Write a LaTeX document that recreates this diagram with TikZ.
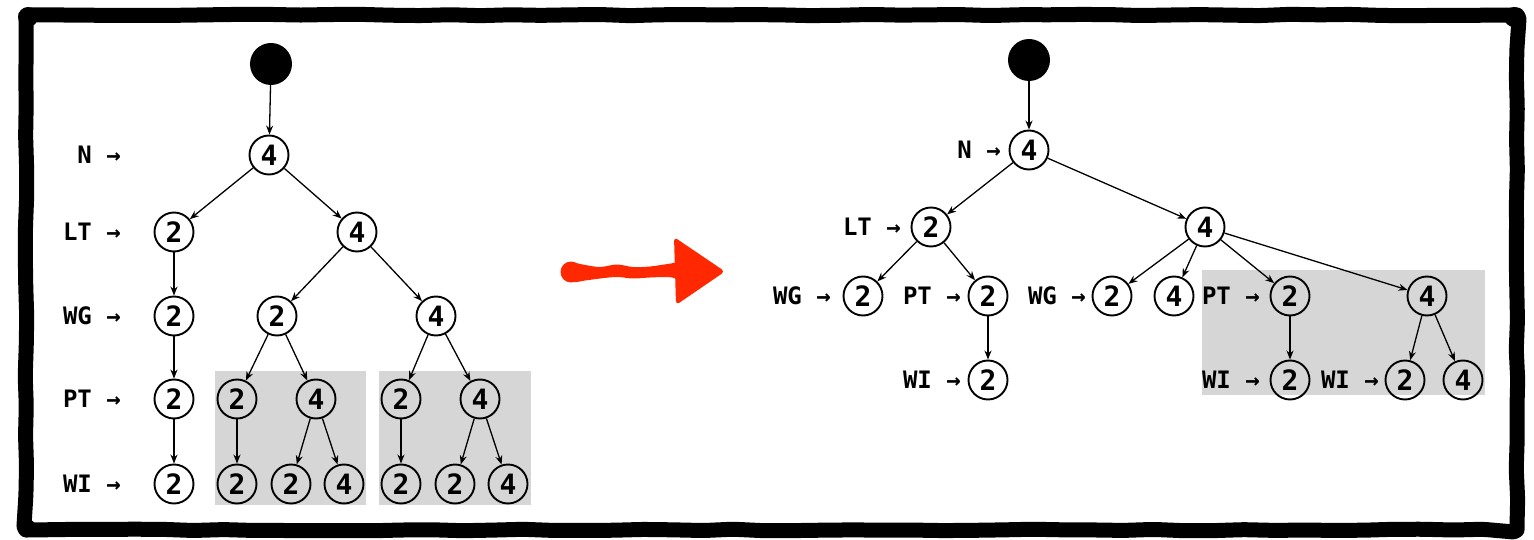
\documentclass[tikz,border=0pt]{standalone}
\usepackage{fontspec}
\setmonofont{DejaVu Sans Mono}
\usetikzlibrary{arrows.meta,decorations.pathmorphing}
\definecolor{boxgray}{RGB}{214,214,214}
\definecolor{markred}{RGB}{255,40,0}
\tikzset{
  tnode/.style={circle,draw,line width=1.9pt,minimum size=39pt,inner sep=0pt,
    font=\ttfamily\bfseries\fontsize{28}{32}\selectfont},
  wnode/.style={tnode,fill=white},
  rootdot/.style={circle,fill=black,minimum size=42pt,inner sep=0pt},
  lab/.style={anchor=east,inner sep=0pt,font=\ttfamily\bfseries\fontsize{24}{28}\selectfont},
  edge/.style={line width=1.3pt,-{Stealth[length=9pt,width=7pt]}},
  region/.style={fill=boxgray},
  frame/.style={line width=15pt,line join=round,decorate,
    decoration={random steps,segment length=30pt,amplitude=0.8pt},rounded corners=4pt},
}
\begin{document}
\begin{tikzpicture}[x=1pt,y=-1pt]
\useasboundingbox (0,0) rectangle (1534,540);
\pgfmathsetseed{11}
% hand-drawn frame
\draw[frame] (26,15) -- (1517,15) -- (1517,530) -- (26,530) -- cycle;
\fill (28,17) circle (10);
\fill (1514,17) circle (10);
\fill (27,528) circle (9);

% shaded subtrees
\fill[region] (215,371) rectangle (366,505);
\fill[region] (379,371) rectangle (531,505);
\fill[region] (1202,270) rectangle (1485,395);

% ---------- left tree ----------
\node[rootdot] (L0) at (271,64) {};
\node[wnode] (Ln)  at (269,155) {4};
\node[wnode] (Ll1) at (174,232) {2};
\node[wnode] (Ll2) at (357,232) {4};
\node[wnode] (Lg1) at (174,316) {2};
\node[wnode] (Lg2) at (277,316) {2};
\node[wnode] (Lg3) at (436,316) {4};
\node[wnode] (Lp1) at (174,399) {2};
\node[tnode] (Lp2) at (237,399) {2};
\node[tnode] (Lp3) at (316,399) {4};
\node[tnode] (Lp4) at (401,399) {2};
\node[tnode] (Lp5) at (480,399) {4};
\node[wnode] (Lw1) at (174,484) {2};
\node[tnode] (Lw2) at (237,484) {2};
\node[tnode] (Lw3) at (291,484) {2};
\node[tnode] (Lw4) at (344,484) {4};
\node[tnode] (Lw5) at (401,484) {2};
\node[tnode] (Lw6) at (455,484) {2};
\node[tnode] (Lw7) at (508,484) {4};

\node[lab] (LlabN)  at (121,155) {N →};
\node[lab] (LlabLT) at (121,232) {LT →};
\node[lab] (LlabWG) at (121,316) {WG →};
\node[lab] (LlabPT) at (121,399) {PT →};
\node[lab] (LlabWI) at (121,484) {WI →};

\draw[edge] (L0) -- (Ln);
\draw[edge] (Ln) -- (Ll1);
\draw[edge] (Ln) -- (Ll2);
\draw[edge] (Ll1) -- (Lg1);
\draw[edge] (Ll2) -- (Lg2);
\draw[edge] (Ll2) -- (Lg3);
\draw[edge] (Lg1) -- (Lp1);
\draw[edge] (Lg2) -- (Lp2);
\draw[edge] (Lg2) -- (Lp3);
\draw[edge] (Lg3) -- (Lp4);
\draw[edge] (Lg3) -- (Lp5);
\draw[edge] (Lp1) -- (Lw1);
\draw[edge] (Lp2) -- (Lw2);
\draw[edge] (Lp3) -- (Lw3);
\draw[edge] (Lp3) -- (Lw4);
\draw[edge] (Lp4) -- (Lw5);
\draw[edge] (Lp5) -- (Lw6);
\draw[edge] (Lp5) -- (Lw7);

% ---------- transformation arrow (brush stroke) ----------
\fill[markred] (571,272) circle (10.5);
\fill[markred] plot[smooth cycle,tension=0.6] coordinates {
  (572,264) (585,265) (600,267) (617,264.5) (633,267) (650,266.5) (668,264) (682,263)
  (682,278) (668,277) (650,277.5) (633,278.5) (617,277) (600,278.5) (585,280.5) (572,281)};
\fill[markred,rounded corners=4pt] (674,237) -- (725,271.5) -- (676,305) -- cycle;

% ---------- right tree ----------
\node[rootdot] (R0) at (1029,60) {};
\node[wnode] (Rn)  at (1029,150) {4};
\node[wnode] (Rl1) at (931,227) {2};
\node[wnode] (Rl2) at (1205,227) {4};
\node[wnode] (Rg1) at (863,296) {2};
\node[wnode] (Rg2) at (988,296) {2};
\node[wnode] (Rg3) at (1112,296) {2};
\node[wnode] (Rg4) at (1174,296) {4};
\node[tnode] (Rg5) at (1290,296) {2};
\node[tnode] (Rg6) at (1427,296) {4};
\node[wnode] (Rw1) at (988,380) {2};
\node[tnode] (Rw2) at (1290,380) {2};
\node[tnode] (Rw3) at (1405,380) {2};
\node[tnode] (Rw4) at (1463,380) {4};

\node[lab] (RlabN)   at (1001,150) {N →};
\node[lab] (RlabLT)  at (901,227) {LT →};
\node[lab] (RlabWG1) at (831,296) {WG →};
\node[lab] (RlabPT1) at (961,296) {PT →};
\node[lab] (RlabWG2) at (1086,296) {WG →};
\node[lab] (RlabPT2) at (1260,296) {PT →};
\node[lab] (RlabWI1) at (961,380) {WI →};
\node[lab] (RlabWI2) at (1260,380) {WI →};
\node[lab] (RlabWI3) at (1379,380) {WI →};

\draw[edge] (R0) -- (Rn);
\draw[edge] (Rn) -- (Rl1);
\draw[edge] (Rn) -- (Rl2);
\draw[edge] (Rl1) -- (Rg1);
\draw[edge] (Rl1) -- (Rg2);
\draw[edge] (Rg2) -- (Rw1);
\draw[edge] (Rl2) -- (Rg3);
\draw[edge] (Rl2) -- (Rg4);
\draw[edge] (Rl2) -- (Rg5);
\draw[edge] (Rl2) -- (Rg6);
\draw[edge] (Rg5) -- (Rw2);
\draw[edge] (Rg6) -- (Rw3);
\draw[edge] (Rg6) -- (Rw4);
\end{tikzpicture}
\end{document}
